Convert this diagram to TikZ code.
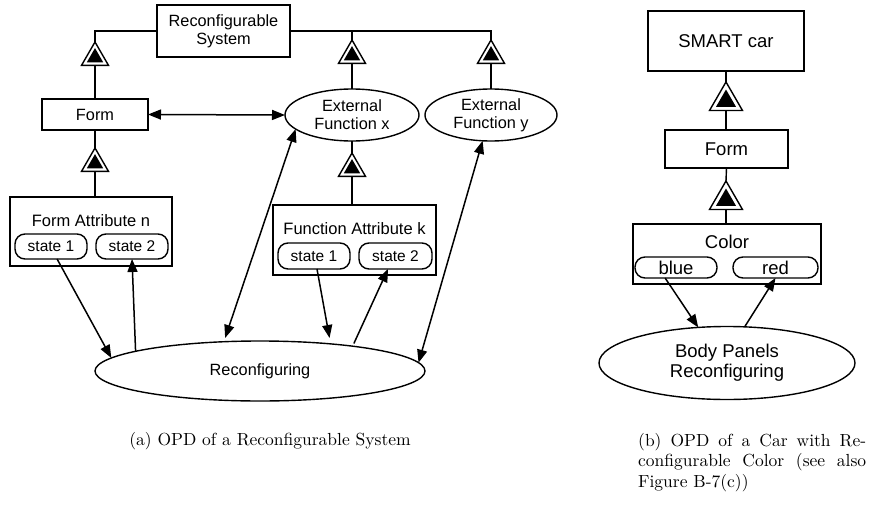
\documentclass[tikz,border=0pt]{standalone}
\usepackage{fontspec}
\newfontfamily\opd{Liberation Sans}
\newfontfamily\capfont[Extension=.otf]{lmroman10-regular}
\usetikzlibrary{shapes.geometric,arrows.meta}

\begin{document}
\begin{tikzpicture}[x=1pt,y=-1pt,
  obj/.style={draw, line width=1.4pt, rectangle, inner sep=0pt, outer sep=0pt,
    align=center, font=\opd\fontsize{16.3}{18}\selectfont},
  proc/.style={draw, line width=1.4pt, ellipse, inner sep=0pt, outer sep=0pt,
    align=center, font=\opd\fontsize{16.3}{18}\selectfont},
  statebox/.style={draw, line width=1.4pt, rectangle, rounded corners=10pt,
    inner sep=0pt, outer sep=0pt, font=\opd\fontsize{15.5}{17}\selectfont},
  title/.style={inner sep=0pt, font=\opd\fontsize{16.5}{18}\selectfont},
  big/.style={font=\opd\fontsize{18.5}{20}\selectfont},
  gen/.style={draw, fill=white, line width=1.4pt, regular polygon,
    regular polygon sides=3, inner sep=0pt, outer sep=0pt, minimum size=#1},
  gencore/.style={fill=black, regular polygon, regular polygon sides=3,
    inner sep=0pt, outer sep=0pt, minimum size=#1},
  link/.style={line width=1.4pt},
  tip/.tip={Triangle[length=13pt,width=10pt]},
  arr/.style={line width=1.5pt, -tip},
  darr/.style={line width=1.5pt, tip-tip},
  caption/.style={inner sep=0pt, font=\capfont\fontsize{17.5}{20.5}\selectfont},
]
\useasboundingbox[fill=white] (0,0) rectangle (873,506);

% ---------- (a) reconfigurable system ----------
\node[obj, minimum width=133pt, minimum height=52pt] (rs) at (223.5,31) {Reconfigurable\\System};
\node[obj, minimum width=106pt, minimum height=31pt] (form) at (95,114.5) {Form};
\node[obj, minimum width=162pt, minimum height=69pt] (fa) at (91,231.5) {};
\node[title] (fatitle) at (91,221) {Form Attribute n};
\node[statebox, minimum width=72pt, minimum height=25pt] (fs1) at (51,246.5) {state 1};
\node[statebox, minimum width=72pt, minimum height=25pt] (fs2) at (132,246.5) {state 2};

\node[proc, minimum width=134pt, minimum height=52pt] (efx) at (352,115) {External\\Function x};
\node[proc, minimum width=132pt, minimum height=52pt] (efy) at (491,115) {External\\Function y};

\node[obj, minimum width=163pt, minimum height=70pt] (fk) at (354.5,240) {};
\node[title] (fktitle) at (354.5,229) {Function Attribute k};
\node[statebox, minimum width=72pt, minimum height=26pt] (fks1) at (314,256) {state 1};
\node[statebox, minimum width=73pt, minimum height=26pt] (fks2) at (395.5,256) {state 2};

\node[proc, minimum width=330pt, minimum height=60pt] (rec) at (260,371) {Reconfiguring};

% exhibition (characterization) links
\node[gen=31.2pt] (t1) at (95,57.6) {};
\node[gen=31.2pt] (t2) at (95,163.6) {};
\node[gen=31.2pt] (t3) at (352,55.6) {};
\node[gen=31.2pt] (t4) at (491,55.6) {};
\node[gen=31.2pt] (t5) at (352,168.6) {};

\draw[link] (rs.west) -| (t1.north);
\draw[link] (t1.south) -- (form.north);
\draw[link] (form.south) -- (t2.north);
\draw[link] (t2.south) -- (t2.south |- fa.north);
\draw[link] (rs.east) -| (t4.north);
\draw[link] (t3.north) -- (t3.north |- rs.east);
\draw[link] (t3.south) -- (efx.north);
\draw[link] (t4.south) -- (efy.north);
\draw[link] (efx.south) -- (t5.north);
\draw[link] (t5.south) -- (t5.south |- fk.north);

% effect and instrument links
\draw[darr] (form.east) -- (efx.west);
\draw[arr] (fs1.-64) -- (rec.175);
\draw[arr] (rec.171) -- (fs2.south);
\draw[darr, shorten >=4pt] (efx.194) -- (rec.141);
\draw[arr, shorten >=6pt] (fks1.-77) -- (rec.21);
\draw[arr, shorten <=3pt] (rec.15) -- (fks2.-120);
\draw[darr] (efy.252) -- (rec.3);

% ---------- (b) car with reconfigurable colour ----------
\node[obj, big, minimum width=156pt, minimum height=60pt] (car) at (726,41) {SMART car};
\node[obj, big, minimum width=123pt, minimum height=38pt] (form2) at (726.5,149) {Form};
\node[obj, minimum width=188pt, minimum height=60pt] (color) at (727,254) {};
\node[title, big] (colortitle) at (727,242) {Color};
\node[statebox, big, minimum width=82pt, minimum height=21pt] (blue) at (676,267.5) {blue};
\node[statebox, big, minimum width=85pt, minimum height=21pt] (red) at (775.5,267.5) {red};
\node[proc, big, minimum width=256pt, minimum height=73pt] (body) at (727,363) {Body Panels\\Reconfiguring};

\node[gen=38.1pt] (t6) at (726,101) {};
\node[gen=38.1pt] (t7) at (726,200) {};

\draw[link] (car.south) -- (t6.north);
\draw[link] (t6.south) -- (t6.south |- form2.north);
\draw[link] (form2.south) -- (t7.north);
\draw[link] (t7.south) -- (t7.south |- color.north);

\draw[arr] (blue.-136) -- (body.129);
\draw[arr] (body.64) -- (red.south);

% solid cores of the link triangles
\foreach \t in {t1,t2,t3,t4,t5} \node[gencore=19pt] (\t core) at (\t) {};
\foreach \t in {t6,t7} \node[gencore=23pt] (\t core) at (\t) {};

% ---------- captions ----------
\node[caption] (capa) at (270,441) {(a) OPD of a Reconfigurable System};
\node[caption, anchor=north west, align=left] (capb) at (638,433)
  {\makebox[228pt][s]{(b) OPD of a Car with Re-}\\
   \makebox[228pt][s]{configurable Color (see also}\\
   Figure B-7(c))};
\end{tikzpicture}
\end{document}
